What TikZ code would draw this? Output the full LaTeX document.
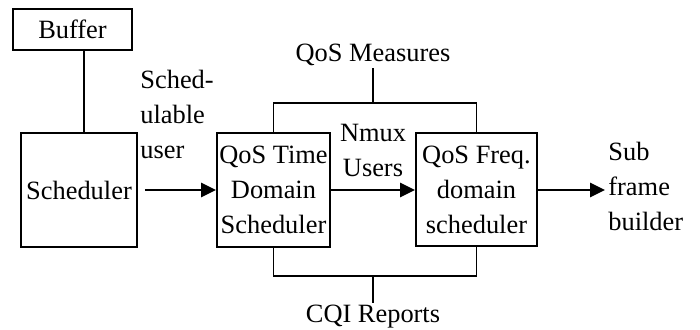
\documentclass[tikz,border=0pt]{standalone}
\usepackage{fontspec}
\setmainfont{Liberation Serif}
\usepackage{tikz}
\usetikzlibrary{arrows.meta}

\begin{document}
\begin{tikzpicture}[x=0.5pt,y=-0.5pt,
  box/.style={draw,line width=0.9pt,inner sep=1pt,align=center,font=\fontsize{13.2}{17.5}\selectfont},
  lbl/.style={inner sep=1pt,font=\fontsize{13.2}{17.5}\selectfont},
  flow/.style={line width=1.4pt,-{Triangle[length=7.5pt,width=7pt]}},
  link/.style={line width=0.9pt}]
\useasboundingbox (0,0) rectangle (700,330);

% Buffer and scheduler
\node[box,minimum width=59.5pt,minimum height=20.5pt] (buf) at (72.5,29.5) {Buffer};
\node[box,minimum width=58pt,minimum height=57pt] (sch) at (79,190) {Scheduler};
\coordinate (bj) at (84,0);
\draw[link] (buf.south -| bj) -- (sch.north -| bj);

% QoS schedulers
\node[box,minimum width=56.5pt,minimum height=57pt] (tds) at (273.5,190) {QoS Time\\Domain\\Scheduler};
\node[box,minimum width=60.5pt,minimum height=56.5pt] (fds) at (476.5,189.5) {QoS Freq.\\domain\\scheduler};

% Flow arrows
\coordinate (out) at (605,190);
\draw[flow,shorten <=3.5pt] (sch) -- (tds);
\draw[flow] (tds.east) -- (tds.east -| fds.west);
\draw[flow] (fds.east |- out) -- (out);

% Arrow labels
\node[lbl,align=left,anchor=west] (su) at (138,114) {Sched-\\ulable\\user};
\node[lbl,align=center] (nu) at (373,150) {Nmux\\Users};
\node[lbl,align=left,anchor=west] (sfb) at (606,186) {Sub\\frame\\builder};

% Measures and reports
\node[lbl] (qos) at (373,55) {QoS Measures};
\node[lbl] (cqi) at (373,317) {CQI Reports};
\coordinate (qj) at (373,103);
\coordinate (cj) at (373,276);
\draw[link] (tds.north) |- (qj) -| (fds.north);
\draw[link] (qj) -- (qos);
\draw[link] (tds.south) |- (cj) -| (fds.south);
\draw[link] (cj) -- (cqi);
\end{tikzpicture}
\end{document}
